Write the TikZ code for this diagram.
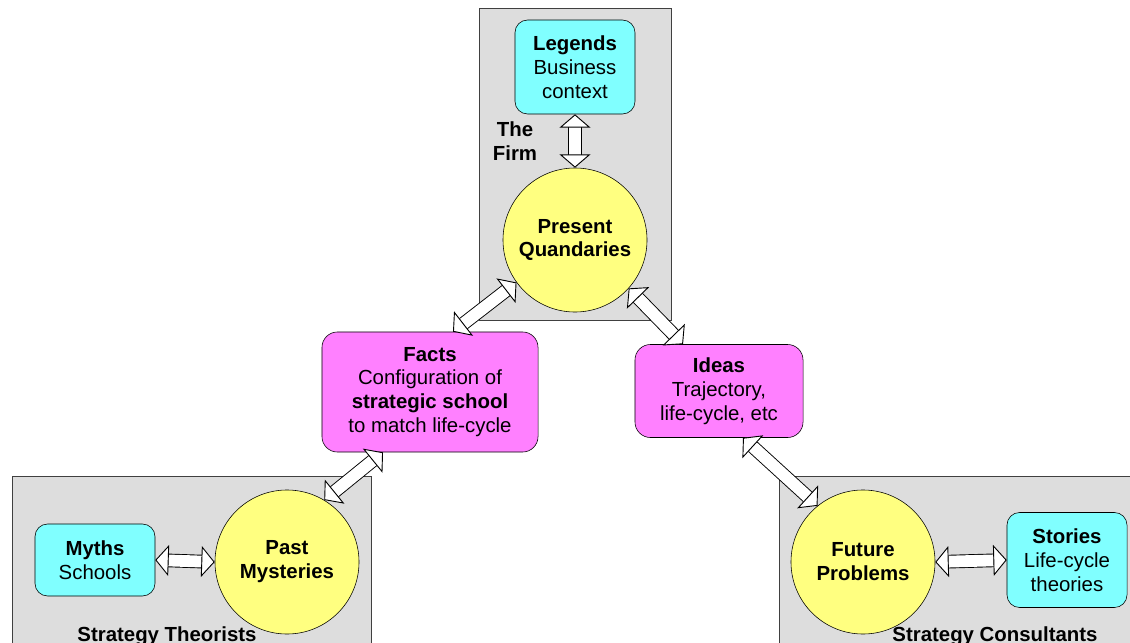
\documentclass[tikz,border=0pt]{standalone}
\usepackage{fontspec}
\setmainfont{Liberation Sans}
\usetikzlibrary{arrows.meta,calc,positioning}
\definecolor{areagray}{HTML}{DDDDDD}
\definecolor{legendcyan}{HTML}{80FFFF}
\definecolor{timeyellow}{HTML}{FFFF80}
\definecolor{viewpink}{HTML}{FF80FF}

\begin{document}
\begin{tikzpicture}[x=0.025cm,y=-0.025cm,font=\fontsize{14.5}{17}\selectfont,
  area/.style={draw=black!75,fill=areagray,line width=0.7pt},
  tale/.style={draw,fill=legendcyan,rounded corners=9pt,align=center,inner sep=0pt,minimum width=3cm},
  view/.style={draw,fill=viewpink,rounded corners=11pt,align=center,inner sep=0pt},
  time/.style={circle,draw,fill=timeyellow,minimum size=3.6cm,inner sep=0pt,align=center,font=\fontsize{14.5}{17}\selectfont\bfseries},
  link/.style={double=white,double distance=8.4pt,line width=0.65pt,
    {Triangle[length=9.5pt,width=22pt,fill=white,line width=0.65pt]}-{Triangle[length=9.5pt,width=22pt,fill=white,line width=0.65pt]}}]
\useasboundingbox (0,0) rectangle (1130,643);
\clip (0,0) rectangle (1130,643);
% the three areas
\draw[area] (479,8) rectangle (671,320);
\draw[area] (12,476) rectangle (371,700);
\draw[area] (779,476) rectangle (1140,700);
\node[font=\fontsize{14.5}{17}\selectfont\bfseries,align=center] (firm) at (515,141) {The\\Firm};
\node[font=\fontsize{14.5}{17}\selectfont\bfseries,anchor=base] (theorists) at (167,641) {Strategy Theorists};
\node[font=\fontsize{14.5}{17}\selectfont\bfseries,anchor=base] (consultants) at (995,641) {Strategy Consultants};
% the tales
\node[tale,minimum height=2.35cm] (legends) at (575,67) {\textbf{Legends}\\Business\\context};
\node[tale,minimum height=1.8cm] (myths) at (95,560) {\textbf{Myths}\\Schools};
\node[tale,minimum height=2.375cm] (stories) at (1067,560) {\textbf{Stories}\\Life-cycle\\theories};
% past, present, future
\node[time] (present) at (575,240) {Present\\Quandaries};
\node[time] (past) at (287,562) {Past\\Mysteries};
\node[time] (future) at (863,562) {Future\\Problems};
% facts and ideas
\node[view,minimum width=5.4cm,minimum height=3cm] (facts) at (430,392) {\textbf{Facts}\\Configuration of\\\textbf{strategic school}\\to match life-cycle};
\node[view,minimum width=4.2cm,minimum height=2.325cm] (ideas) at (719,391) {\textbf{Ideas}\\Trajectory,\\life-cycle, etc};
% links
\draw[link] (legends.south) -- (present.north);
\draw[link] (myths.east) -- (past.west);
\draw[link] (future.east) -- (stories.west);
\draw[link] (present.216) -- ($(facts.north)+(23,0)$);
\draw[link] (present.-42) -- ($(ideas.north)+(-36,0)$);
\draw[link] ($(facts.south)+(-47,0)$) -- (past.59);
\draw[link] ($(ideas.south)+(24,0)$) -- (future.129);
\end{tikzpicture}
\end{document}
